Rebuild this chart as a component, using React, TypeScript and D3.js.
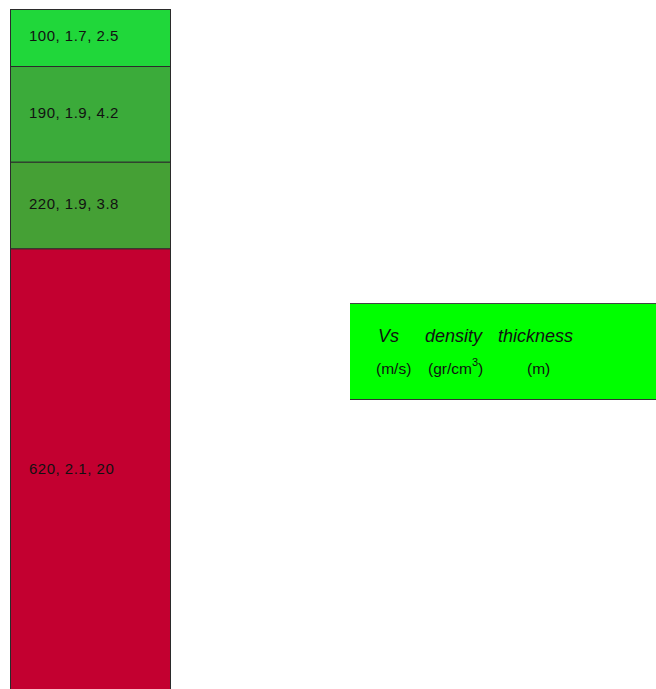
import React from "react";
import * as d3 from "d3";

const vs = [100, 190, 220, 620];
const density = [1.7, 1.9, 1.9, 2.1];
const thickness = [2.5, 4.2, 3.8, 20];
const legendTitles = ["Vs", "density", "thickness"];
const legendUnits = ["(m/s)", "(gr/cm", "(m)"];

const layerColors = ["#20d73a", "#3bab3a", "#45a035", "#c30030"];

export default function App() {
  const W = 656, H = 689;
  const total = d3.sum(thickness);
  const y = d3.scaleLinear().domain([0, total]).range([9, 9 + total * 22.8]);
  const x = d3.scaleLinear().domain([0, 1]).range([10, 170]);
  const tops = d3.cumsum([0, ...thickness]);
  const font = "Arial, 'Liberation Sans', sans-serif";
  return (
    <svg width={W} height={H} style={{ position: "fixed", left: 0, top: 0 }} fontFamily={font}>
      <rect x={0} y={0} width={W} height={H} fill="#fff" />
      {thickness.map((t, i) => {
        const y0 = y(tops[i]);
        const y1 = y(tops[i] + t);
        const labelY = i === thickness.length - 1 ? (y0 + Math.min(y1, H + 3)) / 2 : (y0 + y1) / 2;
        return (
          <g key={i}>
            <rect x={x(0) + 0.5} y={y0 + 0.5} width={x(1) - x(0)} height={y1 - y0} fill={layerColors[i]} stroke="#2b2b2b" strokeWidth={1} />
            <text x={x(0) + 19} y={labelY} dominantBaseline="middle" fontSize={15} fill="#111" style={{ letterSpacing: "0.5px" }}>
              {`${vs[i]}, ${density[i]}, ${t}`}
            </text>
          </g>
        );
      })}
      <rect x={350} y={303.5} width={330} height={96} fill="#00ff00" />
      <line x1={350} x2={W} y1={303.5} y2={303.5} stroke="#444" />
      <line x1={350} x2={W} y1={399.5} y2={399.5} stroke="#333" />
      <g fontSize={18} fontStyle="italic" fill="#111">
        <text x={378} y={342}>{legendTitles[0]}</text>
        <text x={425} y={342}>{legendTitles[1]}</text>
        <text x={498} y={342}>{legendTitles[2]}</text>
      </g>
      <g fontSize={15.5} fill="#111">
        <text x={376} y={374}>{legendUnits[0]}</text>
        <text x={428} y={374}>{legendUnits[1]}<tspan dy={-8} fontSize={11}>3</tspan><tspan dy={8}>)</tspan></text>
        <text x={527} y={374}>{legendUnits[2]}</text>
      </g>
    </svg>
  );
}
